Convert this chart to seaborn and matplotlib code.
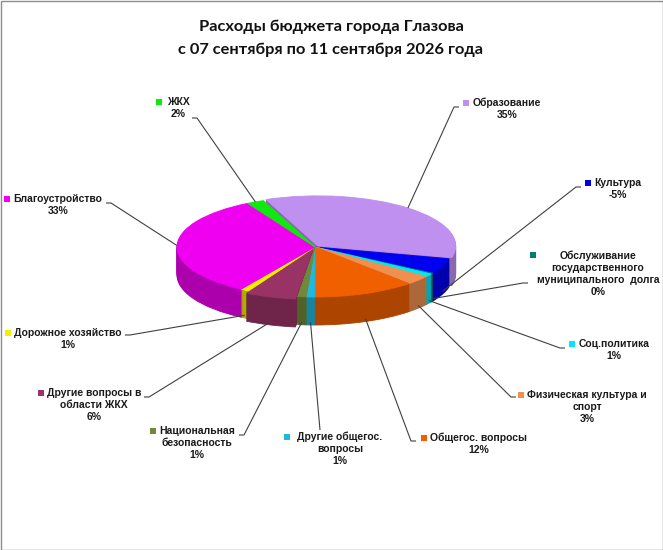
import numpy as np
import matplotlib
matplotlib.use("Agg")
import matplotlib.pyplot as plt
import matplotlib.transforms as mtransforms
import matplotlib.colors as mcolors
import matplotlib.patches as mpatches
import seaborn as sns

title_lines = ["Расходы бюджета города Глазова",
               "с 07 сентября по 11 сентября 2026 года"]

categories = ["Образование",
              "Культура",
              "Обслуживание\nгосударственного\nмуниципального  долга",
              "Соц.политика",
              "Физическая культура и\nспорт",
              "Общегос. вопросы",
              "Другие общегос.\nвопросы",
              "Национальная\nбезопасность",
              "Другие вопросы в\nобласти ЖКХ",
              "Дорожное хозяйство",
              "Благоустройство",
              "ЖКХ"]

# share of total, percent (Культура is negative in the source)
shares = [35.0, -5.0, 0.3, 1.0, 3.0, 12.0, 1.0, 1.0, 6.0, 1.0, 33.0, 2.0]

slice_colors = ["#C090F0", "#0000F0", "#007C78", "#00E8F8", "#F09050", "#F06000",
                "#20B8E0", "#708838", "#993366", "#F0F000", "#F000F0", "#10E810"]

explode = [0.03, 0, 0, 0, 0, 0, 0, 0, 0.05, 0, 0, 0]

# label layout: marker x, marker y, text centre x, first line y, tick start/end x, tick y
label_pos = [
    (466, 103, 507, 103, 459, 454, 107),
    (588, 183, 618, 183, 581, 576, 187),
    (533, 255, 598, 256, 528, 523, 283),
    (572, 344, 614, 344, 565, 560, 348),
    (521, 395, 587, 395, 516, 511, 397),
    (424, 438, 479, 438, 416, 411, 441),
    (287, 437, 340, 437, 320, 320, 430),
    (153, 431, 197, 431, 239, 244, 435),
    (41, 393, 94, 393, 144, 149, 397),
    (8, 333, 68, 333, 125, 130, 335),
    (7, 199, 58, 199, 106, 111, 203),
    (159, 102, 178, 102, 192, 197, 118),
]

CX, CY, RX, RY, DEPTH = 315, 247, 138, 50, 28
START = 112


def darker(c, f):
    r, g, b = mcolors.to_rgb(c)
    return (r * f, g * f, b * f)


sns.set_theme(style="white")
plt.rcParams['font.family'] = ['Liberation Sans', 'DejaVu Sans']

fig = plt.figure(figsize=(6.63, 5.5), dpi=100)
ax = fig.add_axes([0, 0, 1, 1])

sizes = np.abs(shares)
side_colors = [darker(c, 0.72) for c in slice_colors]

# stack of pies = side wall, the last one is the top face
top_wedges = None
for k in range(DEPTH, -1, -1):
    cols = side_colors if k > 0 else slice_colors
    wedges, _ = ax.pie(sizes, colors=cols, startangle=START, counterclock=False,
                       explode=explode, wedgeprops=dict(linewidth=0.6))
    tr = mtransforms.Affine2D().scale(RX, -RY).translate(CX, CY + k) + ax.transData
    for w in wedges:
        w.set_transform(tr)
        w.set_edgecolor(w.get_facecolor())
    top_wedges = wedges

ax.set_aspect('auto')
ax.set_position([0, 0, 1, 1])
ax.set_xlim(0, 663)
ax.set_ylim(550, 0)
ax.axis('off')

# labels with leader lines
for w, name, val, col, pos in zip(top_wedges, categories, shares, slice_colors, label_pos):
    mx, my, cx, y1, tx0, tx1, ty = pos
    mid = np.deg2rad((w.theta1 + w.theta2) / 2)
    ox, oy = w.center
    ex = CX + RX * (ox + np.cos(mid))
    ey = CY - RY * (oy + np.sin(mid))
    if np.sin(mid) < -0.2:
        ey += DEPTH * 0.9
    ax.plot([tx0, tx1, ex], [ty, ty, ey], color="#404040", lw=0.8, solid_capstyle='butt')
    ax.add_patch(mpatches.Rectangle((mx - 3, my - 3), 6, 6, color=col, lw=0))
    lines = name.split("\n") + ["{:.0f}%".format(val)]
    for i, line in enumerate(lines):
        ax.text(cx, y1 + i * 12, line, ha="center", va="center", fontsize=7.5,
                fontweight="bold", color="#1a1a1a")

for i, t in enumerate(title_lines):
    ax.text(331, 27 + i * 23, t, ha="center", va="center", fontsize=11.8,
            fontweight="bold", family=["Lato", "DejaVu Sans"], color="#111111")

ax.add_patch(mpatches.Rectangle((0.5, 0.5), 662, 549, fill=False, edgecolor="#8c8c8c",
                                lw=1, clip_on=False))

fig.savefig("out.png", dpi=100)
